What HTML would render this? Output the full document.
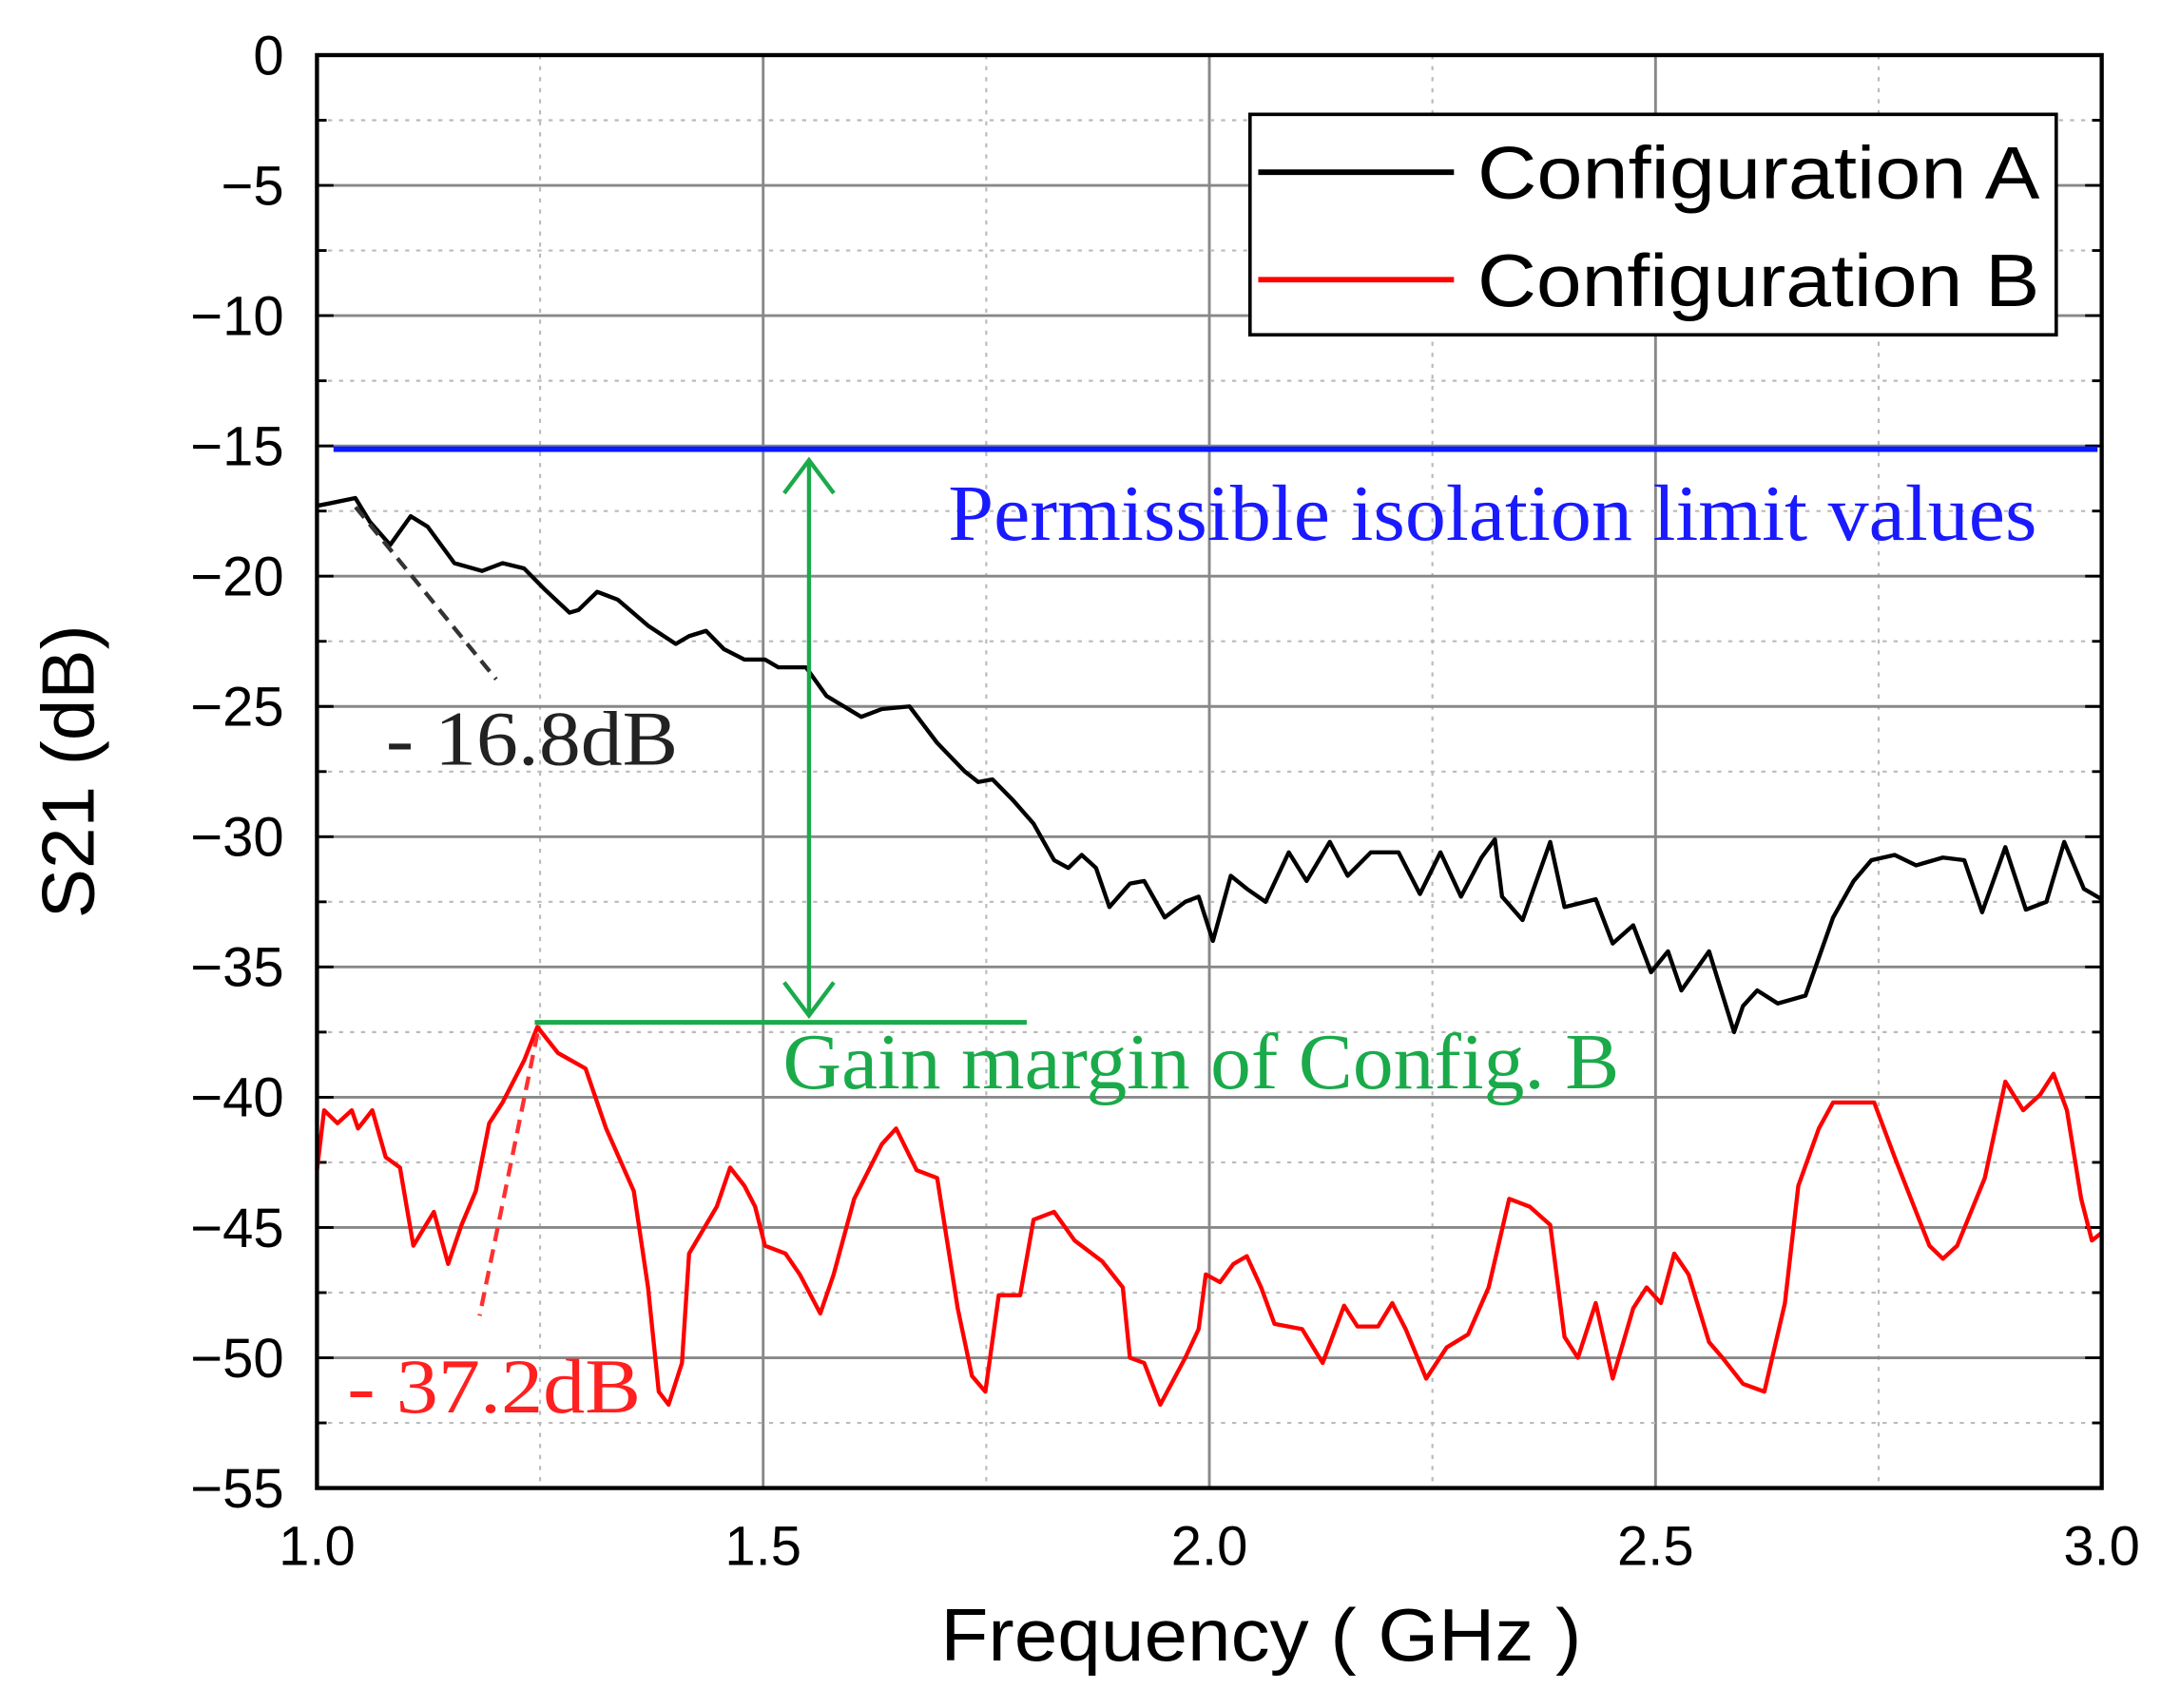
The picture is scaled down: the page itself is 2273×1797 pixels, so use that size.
<!DOCTYPE html>
<html><head><meta charset="utf-8"><style>
html,body{margin:0;padding:0;background:#fff}
svg{display:block}
</style></head><body>
<svg id="chart" width="2273" height="1797" viewBox="0 0 2273 1797" xmlns="http://www.w3.org/2000/svg">
<g id="root" transform="scale(1.4496)">
<g id="grid"></g>
<g id="series"></g>
<g id="ann">
  <line x1="242" y1="326" x2="1522" y2="326" stroke="#0a1aff" stroke-width="4"/>
  <text x="688" y="392" font-family="Liberation Serif, serif" font-size="58" fill="#1a1aff" textLength="790" lengthAdjust="spacingAndGlyphs">Permissible isolation limit values</text>
  <line x1="587" y1="336" x2="587" y2="736" stroke="#1aaa4a" stroke-width="3"/>
  <polyline points="569,358 587,334 605,358" fill="none" stroke="#1aaa4a" stroke-width="3"/>
  <polyline points="569,713 587,737 605,713" fill="none" stroke="#1aaa4a" stroke-width="3"/>
  <line x1="388" y1="742" x2="745" y2="742" stroke="#1aaa4a" stroke-width="3.5"/>
  <text x="568" y="790" font-family="Liberation Serif, serif" font-size="58" fill="#1aaa4a" textLength="607" lengthAdjust="spacingAndGlyphs">Gain margin of Config. B</text>
  <line x1="258" y1="368" x2="360" y2="493" stroke="#333" stroke-width="3" stroke-dasharray="10,6"/>
  <text x="280" y="555" font-family="Liberation Serif, serif" font-size="56" fill="#222" textLength="212" lengthAdjust="spacingAndGlyphs">- 16.8dB</text>
  <line x1="390" y1="750" x2="348" y2="955" stroke="#ff3030" stroke-width="3" stroke-dasharray="10,6"/>
  <text x="252" y="1025" font-family="Liberation Serif, serif" font-size="56" fill="#ff2020" textLength="213" lengthAdjust="spacingAndGlyphs">- 37.2dB</text>
</g>
<rect x="230" y="40" width="1295" height="1040" fill="none" stroke="#000" stroke-width="3"/>
<g id="ticks"></g>
<text x="915" y="1205" text-anchor="middle" font-family="Liberation Sans, sans-serif" font-size="54" fill="#000" textLength="465" lengthAdjust="spacingAndGlyphs">Frequency ( GHz )</text>
<text transform="translate(68,560) rotate(-90)" text-anchor="middle" font-family="Liberation Sans, sans-serif" font-size="54" fill="#000">S21 (dB)</text>
<g>
  <rect x="907" y="83" width="585" height="160" fill="#fff" stroke="#000" stroke-width="2.5"/>
  <line x1="913" y1="125" x2="1055" y2="125" stroke="#000" stroke-width="4"/>
  <text x="1072" y="144" font-family="Liberation Sans, sans-serif" font-size="54" fill="#000" textLength="408" lengthAdjust="spacingAndGlyphs">Configuration A</text>
  <line x1="913" y1="203" x2="1055" y2="203" stroke="#ff0000" stroke-width="4"/>
  <text x="1072" y="222" font-family="Liberation Sans, sans-serif" font-size="54" fill="#000" textLength="408" lengthAdjust="spacingAndGlyphs">Configuration B</text>
</g>
</g>
</svg>
<script>
const xTicks = [1.0, 1.5, 2.0, 2.5, 3.0];
const xTickLabels = ["1.0", "1.5", "2.0", "2.5", "3.0"];
const yTicks = [0, -5, -10, -15, -20, -25, -30, -35, -40, -45, -50, -55];
const yTickLabels = ["0", "−5", "−10", "−15", "−20", "−25", "−30", "−35", "−40", "−45", "−50", "−55"];
const freqA = [1.000,1.015,1.043,1.059,1.082,1.105,1.124,1.154,1.185,1.208,1.232,1.255,1.283,1.293,1.314,1.337,1.371,1.402,1.417,1.436,1.456,1.479,1.502,1.517,1.548,1.571,1.610,1.633,1.664,1.695,1.726,1.741,1.757,1.780,1.803,1.826,1.842,1.857,1.873,1.888,1.911,1.927,1.950,1.973,1.988,2.004,2.024,2.042,2.063,2.089,2.109,2.135,2.155,2.181,2.212,2.236,2.259,2.282,2.305,2.320,2.328,2.351,2.382,2.398,2.433,2.452,2.475,2.495,2.514,2.529,2.560,2.588,2.598,2.614,2.637,2.668,2.699,2.722,2.742,2.768,2.792,2.822,2.846,2.866,2.892,2.915,2.938,2.958,2.980,3.000];
const s21A = [-17.3,-17.2,-17.0,-17.9,-18.8,-17.7,-18.1,-19.5,-19.8,-19.5,-19.7,-20.5,-21.4,-21.3,-20.6,-20.9,-21.9,-22.6,-22.3,-22.1,-22.8,-23.2,-23.2,-23.5,-23.5,-24.6,-25.4,-25.1,-25.0,-26.4,-27.5,-27.9,-27.8,-28.6,-29.5,-30.9,-31.2,-30.7,-31.2,-32.7,-31.8,-31.7,-33.1,-32.5,-32.3,-34.0,-31.5,-32.0,-32.5,-30.6,-31.7,-30.2,-31.5,-30.6,-30.6,-32.2,-30.6,-32.3,-30.8,-30.1,-32.3,-33.2,-30.2,-32.7,-32.4,-34.1,-33.4,-35.2,-34.4,-35.9,-34.4,-37.5,-36.5,-35.9,-36.4,-36.1,-33.1,-31.7,-30.9,-30.7,-31.1,-30.8,-30.9,-32.9,-30.4,-32.8,-32.5,-30.2,-32.0,-32.4];
const freqB = [1.000,1.008,1.023,1.039,1.046,1.062,1.077,1.093,1.108,1.131,1.147,1.162,1.178,1.193,1.208,1.232,1.247,1.270,1.301,1.324,1.355,1.371,1.383,1.394,1.409,1.417,1.448,1.463,1.479,1.491,1.502,1.525,1.541,1.564,1.579,1.602,1.633,1.649,1.672,1.695,1.718,1.734,1.749,1.764,1.788,1.803,1.826,1.849,1.880,1.903,1.911,1.927,1.945,1.973,1.988,1.996,2.012,2.027,2.042,2.058,2.073,2.104,2.127,2.151,2.166,2.189,2.205,2.220,2.243,2.266,2.290,2.313,2.336,2.359,2.382,2.398,2.413,2.433,2.452,2.475,2.490,2.506,2.521,2.537,2.560,2.575,2.598,2.622,2.645,2.660,2.683,2.699,2.745,2.768,2.792,2.807,2.822,2.838,2.869,2.892,2.912,2.931,2.946,2.961,2.977,2.989,3.000];
const s21B = [-42.8,-40.5,-41.0,-40.5,-41.2,-40.5,-42.3,-42.7,-45.7,-44.4,-46.4,-44.9,-43.6,-41.0,-40.2,-38.6,-37.3,-38.3,-38.9,-41.2,-43.6,-47.3,-51.3,-51.8,-50.2,-46.0,-44.2,-42.7,-43.4,-44.2,-45.7,-46.0,-46.8,-48.3,-46.8,-43.9,-41.8,-41.2,-42.8,-43.1,-48.1,-50.7,-51.3,-47.6,-47.6,-44.7,-44.4,-45.5,-46.3,-47.3,-50.0,-50.2,-51.8,-50.0,-48.9,-46.8,-47.1,-46.4,-46.1,-47.3,-48.7,-48.9,-50.2,-48.0,-48.8,-48.8,-47.9,-48.9,-50.8,-49.6,-49.1,-47.3,-43.9,-44.2,-44.9,-49.2,-50.0,-47.9,-50.8,-48.1,-47.3,-47.9,-46.0,-46.8,-49.4,-50.0,-51.0,-51.3,-47.9,-43.4,-41.2,-40.2,-40.2,-42.3,-44.4,-45.7,-46.2,-45.7,-43.1,-39.4,-40.5,-39.9,-39.1,-40.5,-43.9,-45.5,-45.2];

const X0 = 230, X1 = 1525, Y0 = 40, Y1 = 1080;
function xs(f){ return X0 + (f - 1.0) / 2.0 * (X1 - X0); }
function ys(d){ return Y0 + (0 - d) / 55 * (Y1 - Y0); }
const NS = "http://www.w3.org/2000/svg";
const grid = document.getElementById('grid');
const ticks = document.getElementById('ticks');
function mk(tag, attrs, parent){ const e = document.createElementNS(NS, tag); for (const k in attrs) e.setAttribute(k, attrs[k]); parent.appendChild(e); return e; }

for (let f = 1.25; f < 3.0; f += 0.25) {
  const major = Math.abs(f * 2 - Math.round(f * 2)) < 1e-6;
  const l = mk('line', {x1: xs(f), x2: xs(f), y1: Y0, y2: Y1, stroke: major ? '#888' : '#bbb', 'stroke-width': major ? 2 : 1.5, 'stroke-dasharray': major ? '' : '3,5'}, grid);
  
  
}
for (let d = -2.5; d > -55; d -= 2.5) {
  const major = Math.abs(d / 5 - Math.round(d / 5)) < 1e-6;
  const l = mk('line', {x1: X0, x2: X1, y1: ys(d), y2: ys(d), stroke: major ? '#888' : '#bbb', 'stroke-width': major ? 2 : 1.5, 'stroke-dasharray': major ? '' : '3,5'}, grid);
  
  
  const t1 = mk('line', {x1: X0, x2: X0 + (major ? 12 : 7), y1: ys(d), y2: ys(d), stroke: '#000', 'stroke-width': 2}, grid);
  
  
  const t2 = mk('line', {x1: X1, x2: X1 - (major ? 12 : 7), y1: ys(d), y2: ys(d), stroke: '#000', 'stroke-width': 2}, grid);
  
  
}
xTicks.forEach((f, i) => {
  const t = mk('text', {x: xs(f), y: 1136, 'text-anchor': 'middle', 'font-family': 'Liberation Sans, sans-serif', 'font-size': 40, fill: '#000'}, ticks);
  t.textContent = xTickLabels[i];
  
  
});
yTicks.forEach((d, i) => {
  const t = mk('text', {x: 206, y: ys(d) + 14, 'text-anchor': 'end', 'font-family': 'Liberation Sans, sans-serif', 'font-size': 40, fill: '#000'}, ticks);
  t.textContent = yTickLabels[i];
  
  
});
const series = document.getElementById('series');
const pa = mk('polyline', {points: freqA.map((f, i) => xs(f) + ',' + ys(s21A[i])).join(' '), fill: 'none', stroke: '#000', 'stroke-width': 3, 'stroke-linejoin': 'round'}, series);


const pb = mk('polyline', {points: freqB.map((f, i) => xs(f) + ',' + ys(s21B[i])).join(' '), fill: 'none', stroke: '#ff0000', 'stroke-width': 3, 'stroke-linejoin': 'round'}, series);


</script>
</body></html>
